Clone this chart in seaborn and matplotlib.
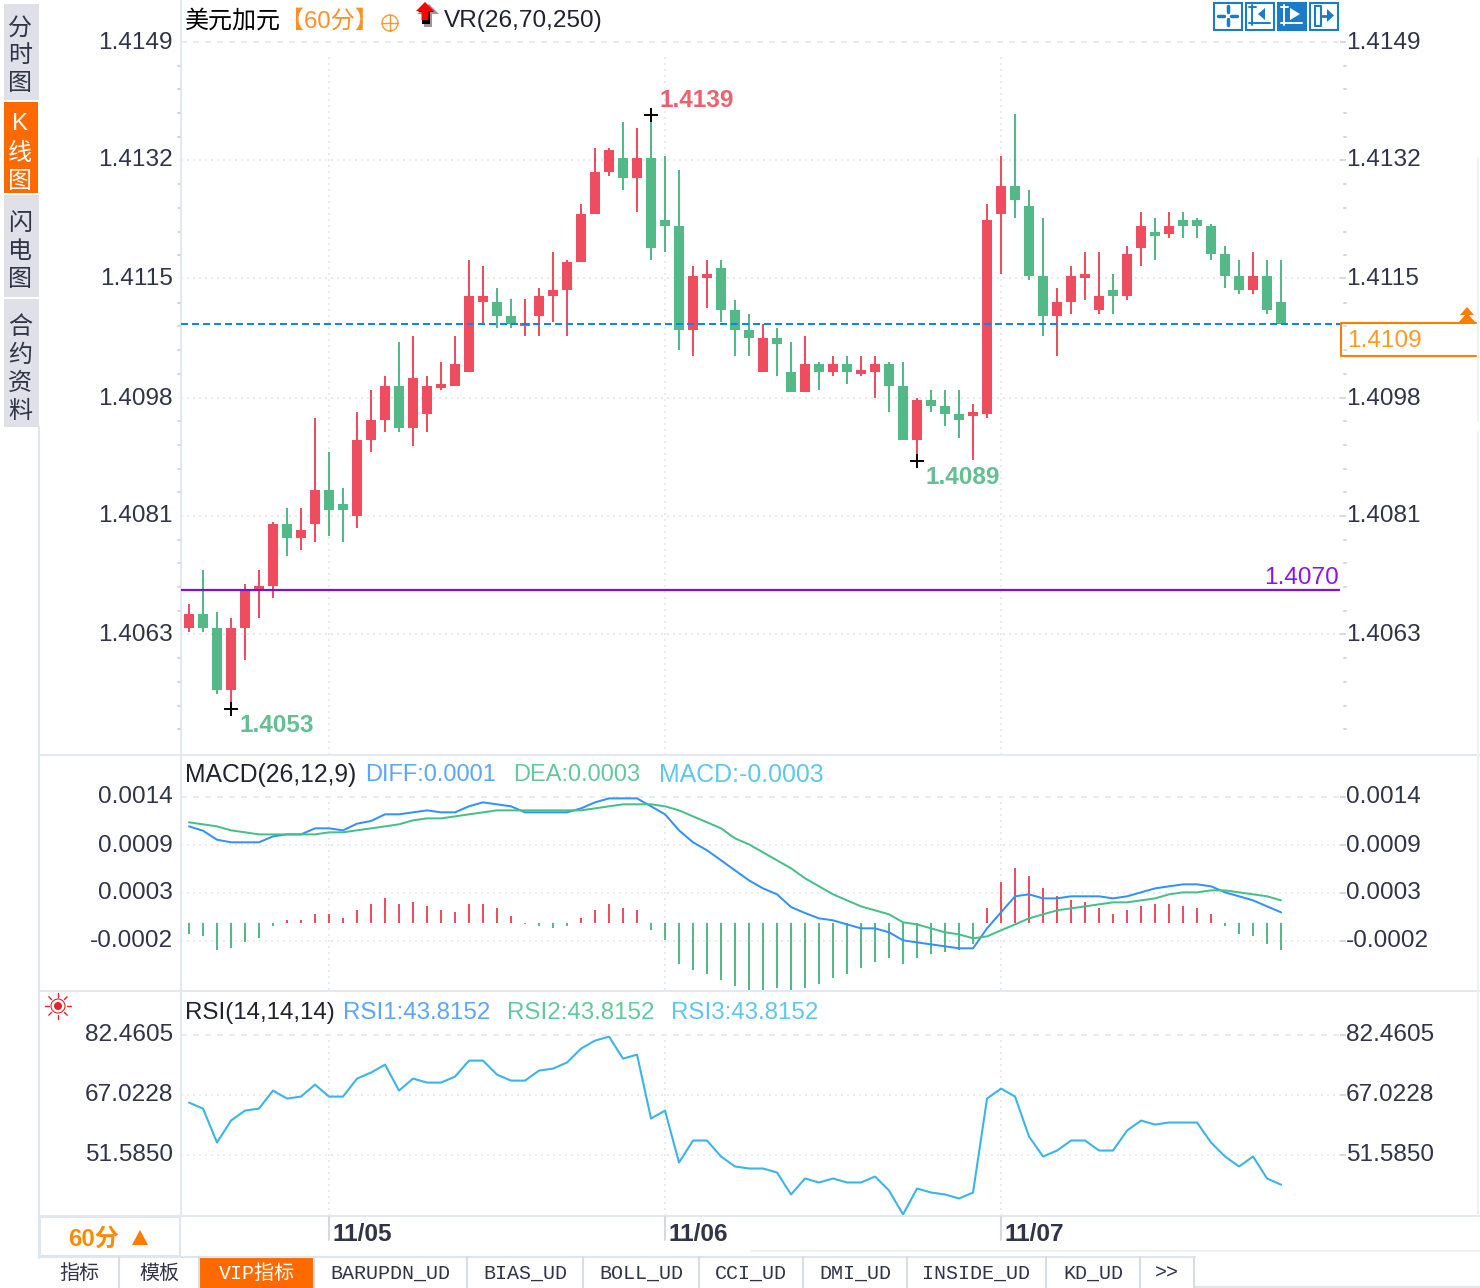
import matplotlib
matplotlib.use("Agg")
import matplotlib.pyplot as plt
from matplotlib.patches import Rectangle, Polygon, Circle
from matplotlib.transforms import ScaledTranslation
import seaborn as sns
import math

## Data

# hourly candles, USD/CAD
opens = [1.40646, 1.40666, 1.40646, 1.40556, 1.40646, 1.40700, 1.40707, 1.40796, 1.40776, 1.40796,
         1.40845, 1.40825, 1.40808, 1.40918, 1.40947, 1.40996, 1.40935, 1.40955, 1.40993, 1.40996,
         1.41016, 1.41118, 1.41118, 1.41097, 1.41083, 1.41097, 1.41126, 1.41135, 1.41175, 1.41245,
         1.41305, 1.41326, 1.41297, 1.41326, 1.41236, 1.41227, 1.41077, 1.41152, 1.41167, 1.41106,
         1.41077, 1.41016, 1.41065, 1.41016, 1.40987, 1.41028, 1.41016, 1.41028, 1.41013, 1.41016,
         1.41028, 1.40996, 1.40918, 1.40976, 1.40967, 1.40955, 1.40952, 1.40955, 1.41245, 1.41285,
         1.41256, 1.41155, 1.41097, 1.41117, 1.41152, 1.41106, 1.41135, 1.41126, 1.41195, 1.41219,
         1.41216, 1.41236, 1.41236, 1.41227, 1.41187, 1.41155, 1.41135, 1.41155, 1.41117]
closes = [1.40666, 1.40646, 1.40556, 1.40646, 1.40700, 1.40707, 1.40796, 1.40776, 1.40788, 1.40845,
          1.40816, 1.40816, 1.40918, 1.40947, 1.40996, 1.40935, 1.41007, 1.40996, 1.40999, 1.41028,
          1.41126, 1.41126, 1.41097, 1.41086, 1.41087, 1.41126, 1.41135, 1.41175, 1.41245, 1.41305,
          1.41337, 1.41297, 1.41326, 1.41195, 1.41227, 1.41077, 1.41155, 1.41158, 1.41106, 1.41077,
          1.41065, 1.41065, 1.41057, 1.40987, 1.41028, 1.41016, 1.41028, 1.41016, 1.41019, 1.41028,
          1.40996, 1.40918, 1.40976, 1.40967, 1.40955, 1.40947, 1.40958, 1.41236, 1.41285, 1.41265,
          1.41155, 1.41097, 1.41117, 1.41155, 1.41158, 1.41126, 1.41126, 1.41187, 1.41227, 1.41213,
          1.41227, 1.41227, 1.41227, 1.41187, 1.41155, 1.41135, 1.41155, 1.41106, 1.41086]
highs = [1.40681, 1.40730, 1.40669, 1.40660, 1.40710, 1.40730, 1.40799, 1.40819, 1.40819, 1.40949,
         1.40900, 1.40848, 1.40958, 1.40990, 1.41010, 1.41060, 1.41068, 1.41010, 1.41031, 1.41068,
         1.41178, 1.41170, 1.41138, 1.41121, 1.41121, 1.41138, 1.41190, 1.41178, 1.41259, 1.41340,
         1.41340, 1.41378, 1.41369, 1.41388, 1.41329, 1.41308, 1.41169, 1.41178, 1.41178, 1.41120,
         1.41100, 1.41086, 1.41080, 1.41059, 1.41068, 1.41031, 1.41039, 1.41039, 1.41039, 1.41039,
         1.41031, 1.41031, 1.40978, 1.40990, 1.40990, 1.40990, 1.40970, 1.41259, 1.41329, 1.41389,
         1.41279, 1.41239, 1.41138, 1.41169, 1.41190, 1.41190, 1.41158, 1.41198, 1.41248, 1.41239,
         1.41248, 1.41248, 1.41239, 1.41230, 1.41198, 1.41178, 1.41190, 1.41178, 1.41178]
lows = [1.40640, 1.40640, 1.40550, 1.40529, 1.40600, 1.40660, 1.40689, 1.40750, 1.40759, 1.40770,
        1.40779, 1.40770, 1.40790, 1.40900, 1.40929, 1.40929, 1.40909, 1.40929, 1.40990, 1.40996,
        1.41016, 1.41087, 1.41080, 1.41080, 1.41068, 1.41068, 1.41089, 1.41068, 1.41175, 1.41245,
        1.41300, 1.41279, 1.41248, 1.41178, 1.41190, 1.41048, 1.41039, 1.41109, 1.41088, 1.41039,
        1.41039, 1.41016, 1.41010, 1.40987, 1.40987, 1.40990, 1.41010, 1.40999, 1.41010, 1.40978,
        1.40958, 1.40918, 1.40888, 1.40958, 1.40938, 1.40921, 1.40889, 1.40950, 1.41158, 1.41239,
        1.41149, 1.41068, 1.41039, 1.41100, 1.41120, 1.41100, 1.41100, 1.41120, 1.41169, 1.41178,
        1.41210, 1.41210, 1.41210, 1.41178, 1.41138, 1.41129, 1.41129, 1.41100, 1.41086]

# MACD panel, in units of 0.00001
macd_hist = [-12.2, -14.4, -30, -27.8, -21.1, -16.7, -3.3, 3.3, 3.3, 10,
             10, 5.6, 14.4, 21.1, 27.8, 21.1, 23.3, 18.9, 14.4, 12.2,
             21.1, 21.1, 16.7, 7.8, -1.1, -3.3, -5.6, -3.3, 5.6, 14.4,
             21.1, 16.7, 14.4, -7.8, -18.9, -45.6, -52.2, -56.7, -63.3, -70,
             -74.4, -74.4, -72.2, -74.4, -72.2, -67.8, -61.1, -56.7, -50, -43.3,
             -38.9, -45.6, -38.9, -34.4, -32.2, -30, -23.3, 16.7, 45.6, 61.1,
             52.2, 38.9, 30, 25.6, 23.3, 16.7, 10, 14.4, 18.9, 21.1,
             21.1, 18.9, 16.7, 10, -3.3, -12.2, -14.4, -23.3, -30]
diff_line = [107, 102.2, 92.2, 89.3, 89.3, 89.3, 95.9, 98.1, 98.1, 104.8,
             104.8, 102.6, 110, 113, 120.4, 120.4, 122.6, 124.8, 122.6, 122.6,
             129.3, 133.7, 131.5, 129.3, 122.6, 122.6, 122.6, 122.6, 127, 133.7,
             138.1, 138.1, 138.1, 129.3, 120.4, 102.6, 89.3, 80.4, 69.3, 58.1,
             47, 38.1, 31.5, 17.4, 10.7, 4.8, 2.6, -1.9, -6.3, -6.3,
             -10.7, -19.6, -21.9, -24.1, -26.3, -28.5, -28.5, -6.3, 11.5, 29.3,
             31.5, 27, 27, 29.3, 29.3, 29.3, 27, 29.3, 33.7, 38.1,
             40.4, 42.6, 42.6, 40.4, 33.7, 29.3, 24.8, 18.1, 11.5]
dea_line = [111.5, 109.3, 107, 102.6, 100.4, 98.1, 98.1, 98.1, 98.1, 98.1,
            100.4, 100.4, 102.6, 104.8, 107, 109.3, 113.7, 115.9, 115.9, 118.1,
            120.4, 122.6, 124.8, 124.8, 124.8, 124.8, 124.8, 124.8, 124.8, 127,
            129.3, 131.5, 131.5, 131.5, 129.3, 124.8, 118.1, 111.5, 104.8, 93.7,
            87, 78.1, 69.3, 60.4, 49.3, 40.4, 31.5, 24.8, 18.1, 13.7,
            9.3, 0.4, -1.9, -6.3, -10.7, -13, -17.4, -15.2, -8.5, -1.9,
            4.8, 9.3, 13.7, 15.9, 18.1, 20.4, 22.6, 22.6, 24.8, 27,
            31.5, 33.7, 33.7, 35.9, 35.9, 33.7, 31.5, 29.3, 24.8]

# RSI panel
rsi_line = [64.96, 63.42, 54.67, 60.33, 62.90, 63.42, 68.05, 65.99, 66.51, 69.59,
            66.51, 66.51, 71.14, 72.68, 74.74, 68.05, 71.14, 70.11, 70.11, 71.65,
            75.77, 75.77, 72.17, 70.62, 70.62, 73.20, 73.71, 75.28, 78.86, 80.92,
            81.95, 76.28, 77.31, 60.85, 62.90, 49.52, 55.19, 55.19, 51.07, 48.50,
            47.98, 47.98, 46.95, 41.29, 45.41, 44.38, 45.41, 44.38, 44.38, 45.92,
            42.32, 36.15, 42.83, 41.80, 41.29, 40.26, 41.80, 65.99, 68.57, 66.51,
            56.21, 51.07, 52.61, 55.19, 55.19, 52.61, 52.61, 57.76, 60.33, 59.30,
            59.82, 59.82, 59.82, 54.67, 51.07, 48.50, 51.07, 45.41, 43.8152]

# axis ticks and labels
price_ticks = [1.41493, 1.41323, 1.41152, 1.40978, 1.40808, 1.40637]
price_labels = ['1.4149', '1.4132', '1.4115', '1.4098', '1.4081', '1.4063']
macd_ticks = [0.0014, 0.000863, 0.000333, -0.0002]
macd_labels = ['0.0014', '0.0009', '0.0003', '-0.0002']
rsi_ticks = [82.4605, 67.0228, 51.5850]
rsi_labels = ['82.4605', '67.0228', '51.5850']
date_pos = [10, 34, 58]
date_labels = ['11/05', '11/06', '11/07']

high_mark = (33, 1.41388, '1.4139')
low_marks = [(3, 1.40529, '1.4053'), (52, 1.40888, '1.4089')]
last_price = 1.41086
avg_price = 1.40700

tab_names = ['指标', '模板', 'VIP指标', 'BARUPDN_UD', 'BIAS_UD', 'BOLL_UD', 'CCI_UD', 'DMI_UD', 'INSIDE_UD', 'KD_UD', '>>']
tab_edges = [40, 119, 199, 314, 467, 583, 699, 803, 907, 1046, 1140, 1194]

RED = '#ee4d5f'
GREEN = '#53b987'
ORANGE = '#ff7d00'
TEXT = '#2f3448'
GRID = '#e9ecef'
EDGE = '#e3e9ef'
BLUE = '#1a7bc9'

sns.set_theme(style='white')
plt.rcParams['font.family'] = ['Liberation Sans', 'Noto Sans CJK SC', 'DejaVu Sans']

W, H = 1480, 1288
fig = plt.figure(figsize=(W / 100, H / 100), dpi=100, facecolor='white')


def panel(left, top, right, bottom):
    return fig.add_axes([left / W, 1 - bottom / H, (right - left) / W, (bottom - top) / H])


def setup_panel(ax, ylim, ticks, labels):
    ax.set_xlim(-0.571, 82.21)
    ax.set_ylim(*ylim)
    ax.set_xticks([])
    ax.set_yticks(ticks, labels=labels)
    ax.tick_params(axis='y', which='major', left=False, right=True, labelleft=True, labelright=True,
                   length=4.3, width=1.5, color='#d5dade', pad=1.5, labelsize=17.6, labelcolor=TEXT)
    # labels sit slightly above their grid line
    nudge_left = ScaledTranslation(0, 2 / 100, fig.dpi_scale_trans)
    nudge_right = ScaledTranslation(-2 / 100, 2 / 100, fig.dpi_scale_trans)
    for tick in ax.yaxis.get_major_ticks():
        tick.label1.set_transform(tick.label1.get_transform() + nudge_left)
        tick.label2.set_transform(tick.label2.get_transform() + nudge_right)
    for name, spine in ax.spines.items():
        spine.set_visible(name == 'left')
    ax.spines['left'].set_color(EDGE)
    ax.spines['left'].set_linewidth(1.5)
    # first tick dashed, the rest dotted
    ax.axhline(ticks[0], color=GRID, lw=1.44, ls=(0, (3, 3)), zorder=0)
    for t in ticks[1:]:
        ax.axhline(t, color=GRID, lw=1.44, ls=(0, (1, 2)), zorder=0)
    ax.vlines(date_pos, ylim[0], ticks[0] - (ylim[1] - ylim[0]) * 0.015, color=GRID, lw=1.44, ls=(0, (1, 2)), zorder=0)


## Candles
ax_main = panel(181, 0, 1340, 755)
setup_panel(ax_main, (1.40462, 1.415542), price_ticks, price_labels)
idx = list(range(len(opens)))
colors = [RED if c > o else GREEN for o, c in zip(opens, closes)]
ax_main.vlines(idx, lows, highs, colors=colors, lw=1.44, zorder=2)
ax_main.bar(idx, [abs(c - o) for o, c in zip(opens, closes)], bottom=[min(o, c) for o, c in zip(opens, closes)],
            width=0.72, color=colors, linewidth=0, zorder=3)
ax_main.axhline(last_price, color='#0a84ff', lw=1.44, ls=(0, (3.5, 2)), zorder=4)
ax_main.axhline(avg_price, color='#7c0fdc', lw=1.6, zorder=4)

# high and low markers
for pos, price, label in [high_mark] + low_marks:
    ax_main.plot([pos], [price], marker='+', ms=10, mew=1.4, color='black', zorder=5)
ax_main.annotate(high_mark[2], (high_mark[0], high_mark[1]), xytext=(6, 2), textcoords='offset points',
                 color=RED, fontsize=17.6, fontweight='bold', va='bottom', alpha=0.9)
for pos, price, label in low_marks:
    ax_main.annotate(label, (pos, price), xytext=(6, -4), textcoords='offset points',
                     color=GREEN, fontsize=17.6, fontweight='bold', va='top', alpha=0.9)
ax_main.annotate('1.4070', (82.21, avg_price), xytext=(-1, 1), textcoords='offset points', color='#8a14ee',
                 fontsize=17.6, ha='right', va='bottom')

## MACD panel
ax_macd = panel(181, 756, 1340, 990)
setup_panel(ax_macd, (-0.000748, 0.001852), macd_ticks, macd_labels)
hist = [v * 1e-5 for v in macd_hist]
ax_macd.vlines(idx, 0, hist, colors=[RED if v > 0 else GREEN for v in hist], lw=1.44, zorder=2)
sns.lineplot(x=idx, y=[v * 1e-5 for v in diff_line], ax=ax_macd, color='#3291fa', lw=1.44, zorder=3)
sns.lineplot(x=idx, y=[v * 1e-5 for v in dea_line], ax=ax_macd, color='#45c08a', lw=1.44, zorder=3)

## RSI panel
ax_rsi = panel(181, 991, 1340, 1216)
setup_panel(ax_rsi, (35.75, 93.7), rsi_ticks, rsi_labels)
sns.lineplot(x=idx, y=rsi_line, ax=ax_rsi, color='#3bb5e8', lw=1.5, zorder=3)
for pos, label in zip(date_pos, date_labels):
    ax_rsi.annotate(label, (pos, 35.75), xytext=(2.5, -21.5), textcoords='offset points', color=TEXT,
                    fontsize=17.6, fontweight='bold', ha='left', va='bottom', annotation_clip=False)

## Everything around the panels, in pixel coordinates
chrome = fig.add_axes([0, 0, 1, 1], zorder=10)
chrome.set_xlim(0, W)
chrome.set_ylim(H, 0)
chrome.axis('off')
chrome.patch.set_alpha(0)

# panel separators and outer lines
for y in [755, 991, 1216]:
    chrome.plot([40, 1480], [y, y], color=EDGE, lw=1.5)
chrome.plot([39, 39], [427, 1258], color='#dfe6ee', lw=1.5)
chrome.plot([1478, 1478], [158, 421], color='#eef1f6', lw=1.5)
chrome.plot([1478, 1478], [432, 1216], color='#eef1f6', lw=1.5)
chrome.plot([751, 1480], [1251, 1251], color='#eef1f5', lw=1.5)

# small ticks on both sides of the price axis
for k in range(0, 30):
    y = 42 + k * 23.7
    if k % 5 != 0 and y < 750:
        chrome.plot([1344, 1346], [y, y], color='#d5dade', lw=1.5)
        chrome.plot([178, 180], [y, y], color='#d5dade', lw=1.5)

# date ticks under the RSI panel
for x in [329, 665, 1001]:
    chrome.plot([x, x], [1217, 1240], color='#d5dade', lw=1.5)

# left side tabs
side_tabs = [(4, 100, '#dfe0e8'), (195, 297, '#dfe0e8'), (299, 427, '#dfe0e8')]
for top, bottom, col in side_tabs:
    chrome.add_patch(Rectangle((4, top), 35, bottom - top, color=col, lw=0))
chrome.add_patch(Rectangle((4, 102), 34, 91, color='#ff6a00', lw=0))
side_text = [('分', 29, TEXT), ('时', 56, TEXT), ('图', 84, TEXT), ('K', 124, 'white'), ('线', 154, 'white'), ('图', 182, 'white'),
             ('闪', 224, TEXT), ('电', 252, TEXT), ('图', 280, TEXT), ('合', 328, TEXT), ('约', 356, TEXT), ('资', 384, TEXT), ('料', 412, TEXT)]
for ch, y, col in side_text:
    chrome.text(20, y, ch, color=col, fontsize=17.3, ha='center', va='center')

# chart title row
chrome.text(185, 21, '美元加元', color='black', fontsize=17.3, va='center')
chrome.text(280, 21, '【60分】', color=ORANGE, fontsize=17.3, va='center', alpha=0.85)
chrome.add_patch(Circle((390, 23), 8, fill=False, ec=ORANGE, lw=1.0, alpha=0.8))
chrome.plot([382, 398], [23, 23], color=ORANGE, lw=1.0, alpha=0.8)
chrome.plot([390, 390], [15, 31], color=ORANGE, lw=1.0, alpha=0.8)
chrome.add_patch(Polygon([(417, 14), (429, 4), (439, 14), (432, 14), (432, 27), (424, 27), (424, 14)], color='#999999', lw=0))
chrome.add_patch(Polygon([(418, 12), (426, 4), (434, 12), (430, 12), (430, 24), (422, 24), (422, 12)], color='black', lw=0))
chrome.add_patch(Polygon([(416, 11), (425, 2), (434, 11), (428.5, 11), (428.5, 20), (421.5, 20), (421.5, 11)], color='#ff0000', lw=0))
chrome.text(444, 21, 'VR(26,70,250)', color='#20232e', fontsize=17.6, va='center')

# toolbar icons top right
for i, x in enumerate([1214, 1246, 1278, 1310]):
    filled = i == 2
    chrome.add_patch(Rectangle((x, 2.5), 27.5, 27, fill=filled, fc=BLUE, ec=BLUE, lw=1.5))
    c = 'white' if filled else BLUE
    if i == 0:
        chrome.plot([x + 4, x + 10], [16, 16], color=c, lw=2.5)
        chrome.plot([x + 17, x + 23], [16, 16], color=c, lw=2.5)
        chrome.plot([x + 13.7, x + 13.7], [6, 12], color=c, lw=2.5)
        chrome.plot([x + 13.7, x + 13.7], [19, 25], color=c, lw=2.5)
    elif i in (1, 2):
        chrome.plot([x + 6, x + 6], [5, 25], color=c, lw=1.4)
        chrome.plot([x + 3, x + 24], [23, 23], color=c, lw=1.4)
        chrome.plot([x + 3, x + 10], [7, 7], color=c, lw=1.4)
        tip = 12 if i == 1 else 22
        base = 19 if i == 1 else 12
        chrome.add_patch(Polygon([(x + base, 8), (x + tip, 14), (x + base, 20)], color=c, lw=0))
    else:
        chrome.plot([x + 5, x + 5, x + 11, x + 11, x + 5], [6, 26, 26, 6, 6], color=c, lw=1.5)
        chrome.add_patch(Polygon([(x + 17, 9), (x + 24, 15.5), (x + 17, 22)], color=c, lw=0))
        chrome.plot([x + 11, x + 18], [15.5, 15.5], color=c, lw=2)

# indicator captions
chrome.text(185, 775, 'MACD(26,12,9)', color='#20232e', fontsize=17.8, va='center')
chrome.text(365, 775, 'DIFF:0.0001', color='#5aa6fa', fontsize=17.0, va='center')
chrome.text(513, 775, 'DEA:0.0003', color='#62c99c', fontsize=17.0, va='center')
chrome.text(659, 775, 'MACD:-0.0003', color='#5cc8ee', fontsize=17.9, va='center')
chrome.text(185, 1013, 'RSI(14,14,14)', color='#20232e', fontsize=17.4, va='center')
chrome.text(343, 1013, 'RSI1:43.8152', color='#5aa6fa', fontsize=17.4, va='center')
chrome.text(507, 1013, 'RSI2:43.8152', color='#62c99c', fontsize=17.4, va='center')
chrome.text(671, 1013, 'RSI3:43.8152', color='#5cc8ee', fontsize=17.4, va='center')

# red sun icon
chrome.add_patch(Circle((58, 1006), 4, color='#e8202a', lw=0))
chrome.add_patch(Circle((58, 1006), 7, fill=False, ec='#e8202a', lw=0.8))
for k in range(8):
    a = k * math.pi / 4
    chrome.plot([58 + 9 * math.cos(a), 58 + 13 * math.cos(a)], [1006 + 9 * math.sin(a), 1006 + 13 * math.sin(a)], color='#e8202a', lw=1.0)

# current price box, open on the right
chrome.plot([1476, 1341, 1341, 1476], [323, 323, 356, 356], color=ORANGE, lw=1.5)
chrome.text(1347, 341, '1.4109', color='#ff9a1f', fontsize=17.6, va='center')
chrome.add_patch(Polygon([(1460, 315), (1467, 307), (1474, 315)], color=ORANGE, lw=0))
chrome.add_patch(Polygon([(1458, 323), (1467, 313), (1476, 323)], color=ORANGE, lw=0))

# period selector
chrome.add_patch(Rectangle((40, 1217), 140, 39, fill=False, ec='#dfe6ee', lw=1.5))
chrome.text(68, 1239, '60分', color='#ff8a00', fontsize=17.3, fontweight='bold', va='center')
chrome.add_patch(Polygon([(132, 1245), (140, 1230), (148, 1245)], color='#ff7a00', lw=0))

# bottom tabs
chrome.plot([40, 1195], [1257, 1257], color='#dfe6ee', lw=1.5)
chrome.plot([1194, 1480], [1287, 1287], color='#dfe6ee', lw=1.5)
chrome.add_patch(Rectangle((199, 1257), 115, 31, color='#ff6a00', lw=0))
for i, name in enumerate(tab_names):
    left, right = tab_edges[i], tab_edges[i + 1]
    chrome.plot([right, right], [1257, 1288], color='#d5dde5', lw=1.5)
    col = 'white' if name == 'VIP指标' else TEXT
    chrome.text((left + right) / 2, 1273, name, color=col, fontsize=14.4, ha='center', va='center',
                family=['Liberation Mono', 'Noto Sans CJK SC'])

fig.savefig('out.png', dpi=100, facecolor='white')
